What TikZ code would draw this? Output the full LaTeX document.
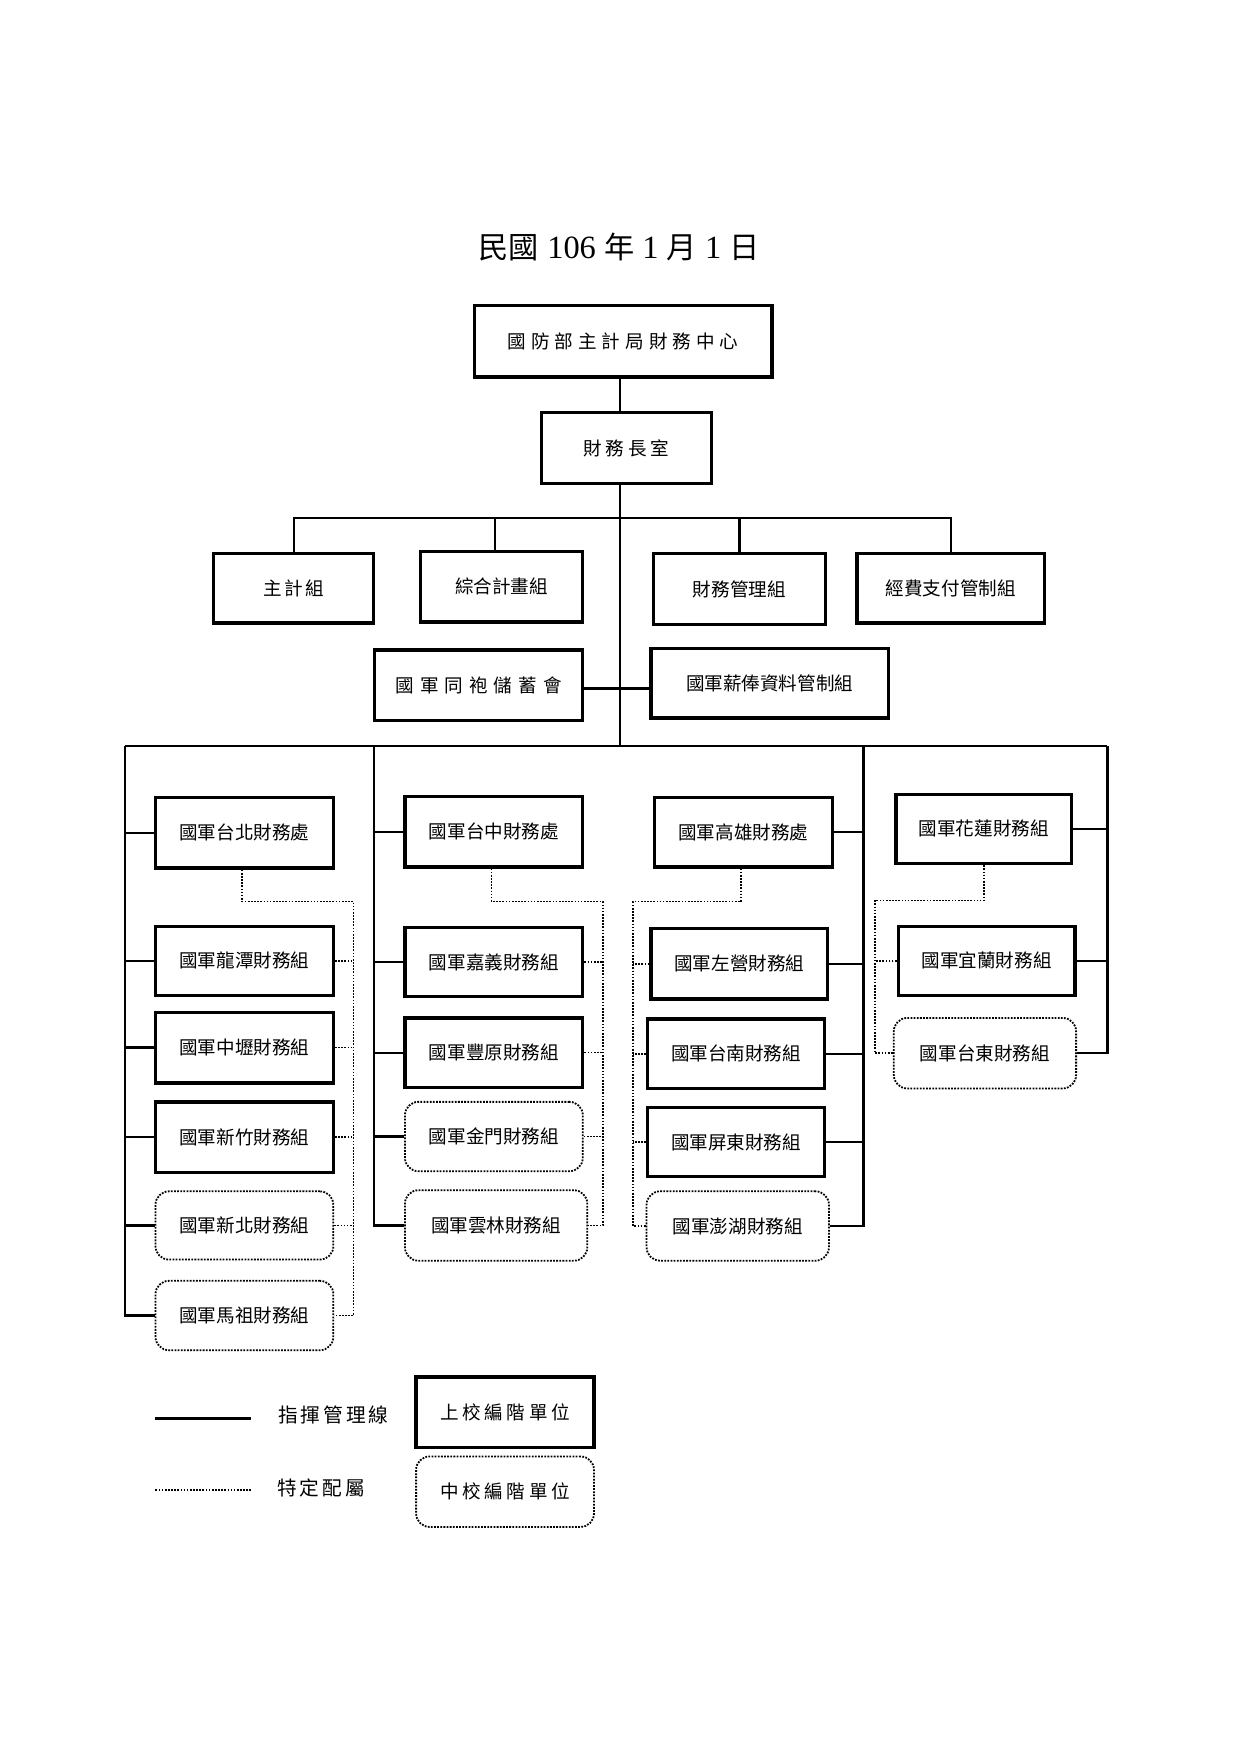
\documentclass[tikz,border=0pt]{standalone}
\usepackage{fontspec}
\setmainfont{Liberation Serif}
\newfontfamily\cjk{Noto Sans CJK TC}
\newcommand\ls[2]{{\addfontfeatures{LetterSpace=#1}#2}}
\tikzset{
  sz/.style 2 args={minimum width={#1*0.5pt}, minimum height={#2*0.5pt}},
  boxtext/.style={inner sep=0pt, align=center, font=\cjk\fontsize{8.3}{10}\selectfont},
  solidbox/.style={boxtext, draw, line width=1.5pt},
  dotbox/.style={boxtext, draw, line width=0.8pt, dash pattern=on 0.8pt off 0.6pt, rounded corners=6pt},
  cmd/.style={line width=1pt},
  spec/.style={line width=0.75pt, dash pattern=on 0.75pt off 0.65pt},
  legtext/.style={inner sep=0pt, font=\cjk\fontsize{8.8}{10}\selectfont},
}
\begin{document}
\begin{tikzpicture}[x=0.5pt,y=-0.5pt]
\useasboundingbox (0,0) rectangle (1109,1568);

% title
\node[inner sep=0pt, font=\fontsize{14.5}{16}\selectfont] (title) at (553.5,221)
  {{\cjk\fontsize{13.5}{16}\selectfont 民國} 106 {\cjk\fontsize{13.5}{16}\selectfont 年} 1 {\cjk\fontsize{13.5}{16}\selectfont 月} 1 {\cjk\fontsize{13.5}{16}\selectfont 日}};

% top levels
\node[solidbox, sz={266}{64}] (top) at (557,305) {\ls{27}{國防部主計局財務中心}};
\node[solidbox, sz={152}{63}] (cfo) at (560,400.5) {\ls{20}{財務長室}};
\coordinate (bj) at (554,667);
\coordinate (b1) at (554,463);
\draw[cmd] (top.south -| bj) -- (cfo.north -| bj);
\draw[cmd] (cfo.south -| bj) -- (bj);

\node[solidbox, sz={143}{62}] (zhu) at (262.5,526) {\ls{15}{主計組}};
\node[solidbox, sz={145}{63}] (zh) at (448.5,524.5) {綜合計畫組};
\node[solidbox, sz={154}{63}] (cw) at (661,526.5) {財務管理組};
\node[solidbox, sz={168}{62}] (jf) at (850,526) {經費支付管制組};
\draw[cmd] (zhu.north) |- (b1) -| (jf.north);
\draw[cmd] ([xshift=-3pt]zh.north) -- ([xshift=-3pt]zh.north |- b1);
\draw[cmd] (cw.north) -- (cw.north |- b1);

\node[solidbox, sz={186}{63}] (tpao) at (428,612.5) {\ls{32}{國軍同袍儲蓄會}};
\node[solidbox, sz={212}{62}] (xf) at (688,611) {國軍薪俸資料管制組};
\draw[cmd] ([yshift=-1.5pt]tpao.east) -- ([yshift=-1.5pt]tpao.east -| xf.west);

% main bus
\coordinate (c1) at (112,667);
\coordinate (c2) at (334,667);
\coordinate (c3) at (772,667);
\coordinate (c4) at (990,667);
\draw[cmd] (c1) -- (c4);

% column 1
\node[solidbox, sz={159}{63}] (tb) at (218.5,744.5) {國軍台北財務處};
\node[solidbox, sz={159}{62}] (lt) at (218.5,859) {國軍龍潭財務組};
\node[solidbox, sz={159}{63}] (zl) at (218.5,936.5) {國軍中壢財務組};
\node[solidbox, sz={159}{63}] (xz) at (218.5,1016.5) {國軍新竹財務組};
\node[dotbox, sz={159}{61}] (xb) at (218.5,1095.5) {國軍新北財務組};
\node[dotbox, sz={159}{62}] (mz) at (218.5,1176) {國軍馬祖財務組};
\draw[cmd] (c1) |- (mz.west);
\foreach \n in {tb,lt,zl,xz,xb} \draw[cmd] (\n.west) -- (\n.west -| c1);
\coordinate (d1) at (316,806);
\draw[spec] ([xshift=-1pt]tb.south) |- (d1) |- (mz.east);
\foreach \n in {lt,zl,xz,xb} \draw[spec] (\n.east) -- (\n.east -| d1);

% column 2
\node[solidbox, sz={159}{63}] (tz) at (441.5,743.5) {國軍台中財務處};
\node[solidbox, sz={159}{62}] (jy) at (441.5,860) {國軍嘉義財務組};
\node[solidbox, sz={159}{62}] (fy) at (441.5,941) {國軍豐原財務組};
\node[dotbox, sz={159}{62}] (jm) at (441.5,1016) {國軍金門財務組};
\node[dotbox, sz={163}{63}] (yl) at (443.5,1095.5) {國軍雲林財務組};
\draw[cmd] (c2) |- (yl.west);
\foreach \n in {tz,jy,fy,jm} \draw[cmd] (\n.west) -- (\n.west -| c2);
\coordinate (d2) at (539,806);
\draw[spec] ([xshift=-1pt]tz.south) |- (d2) |- (yl.east);
\foreach \n in {jy,fy,jm} \draw[spec] (\n.east) -- (\n.east -| d2);

% column 3
\node[solidbox, sz={159}{62}] (gx) at (664.5,744) {國軍高雄財務處};
\node[solidbox, sz={158}{63}] (zy) at (661,861.5) {國軍左營財務組};
\node[solidbox, sz={158}{62}] (tn) at (658,942) {國軍台南財務組};
\node[solidbox, sz={158}{62}] (pd) at (658,1021) {國軍屏東財務組};
\node[dotbox, sz={163}{62}] (ph) at (659.5,1096) {國軍澎湖財務組};
\draw[cmd] (c3) |- (ph.east);
\foreach \n in {gx,zy,tn,pd} \draw[cmd] (\n.east) -- (\n.east -| c3);
\coordinate (d3) at (566,806);
\draw[spec] ([xshift=-1pt]gx.south) |- (d3) |- (ph.west);
\foreach \n in {zy,tn,pd} \draw[spec] (\n.west) -- (\n.west -| d3);

% column 4
\node[solidbox, sz={157}{62}] (hl) at (879.5,741) {國軍花蓮財務組};
\node[solidbox, sz={158}{62}] (yla) at (882,859) {國軍宜蘭財務組};
\node[dotbox, sz={163}{63}] (td) at (880.5,941.5) {國軍台東財務組};
\draw[cmd] (c4) |- (td.east);
\foreach \n in {hl,yla} \draw[cmd] (\n.east) -- (\n.east -| c4);
\coordinate (d4) at (782,805);
\draw[spec] (hl.south) |- (d4) |- (td.west);
\draw[spec] (yla.west) -- (yla.west -| d4);

% legend
\coordinate (la1) at (139,1268);
\coordinate (la2) at (224,1268);
\coordinate (lb1) at (139,1332);
\coordinate (lb2) at (224,1332);
\draw[cmd, line width=1.2pt] (la1) -- (la2);
\draw[spec] (lb1) -- (lb2);
\node[legtext] (lt1) at (298,1265) {\ls{15}{指揮管理線}};
\node[legtext] (lt2) at (287,1330) {\ls{15}{特定配屬}};
\node[solidbox, sz={159}{63}] (lg1) at (451.5,1262.5) {\ls{20}{上校編階單位}};
\node[dotbox, sz={159}{63}] (lg2) at (451.5,1333.5) {\ls{20}{中校編階單位}};
\end{tikzpicture}
\end{document}
